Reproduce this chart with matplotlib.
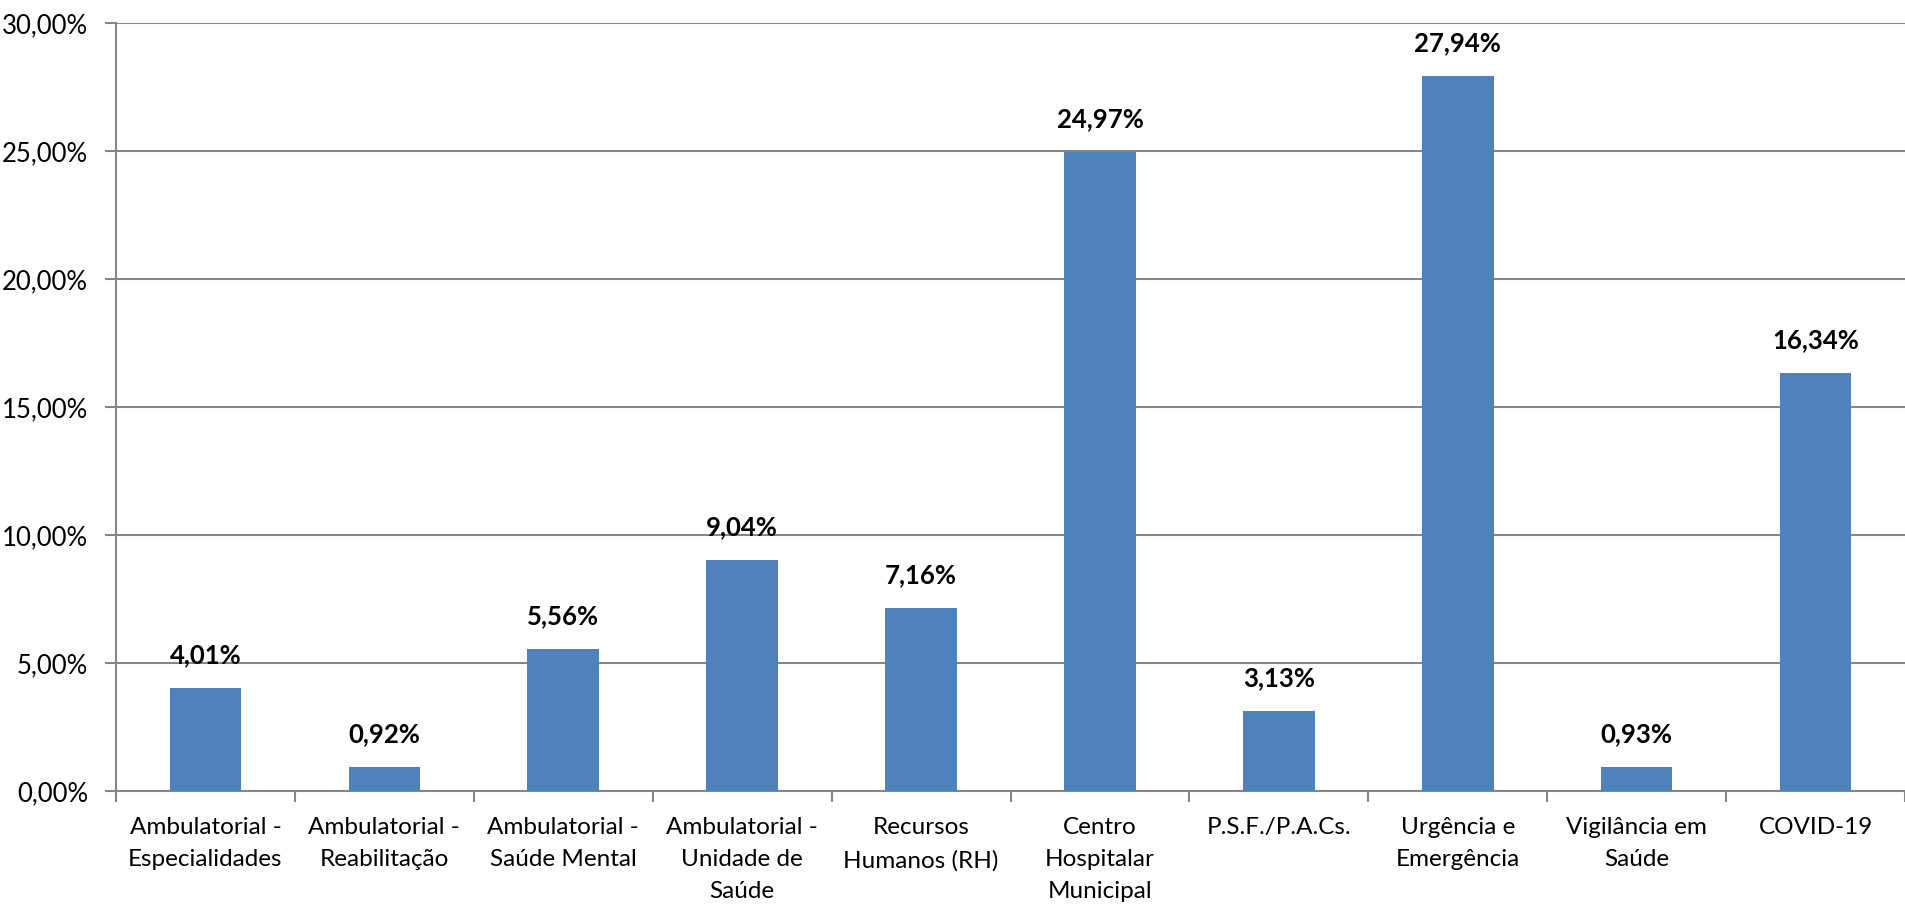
"""Gráfico de barras: distribuição percentual por área (estilo Excel)."""
import matplotlib

matplotlib.use("Agg")
matplotlib.rcParams["font.family"] = ["Lato", "DejaVu Sans"]

import matplotlib.pyplot as plt
import numpy as np
from matplotlib.ticker import FuncFormatter, MultipleLocator

categories = [
    "Ambulatorial -\nEspecialidades",
    "Ambulatorial -\nReabilitação",
    "Ambulatorial -\nSaúde Mental",
    "Ambulatorial -\nUnidade de\nSaúde",
    "Recursos\nHumanos (RH)",
    "Centro\nHospitalar\nMunicipal",
    "P.S.F./P.A.Cs.",
    "Urgência e\nEmergência",
    "Vigilância em\nSaúde",
    "COVID-19",
]
percentages = [4.01, 0.92, 5.56, 9.04, 7.16, 24.97, 3.13, 27.94, 0.93, 16.34]

BAR_COLOR = "#4f81bd"
GRID = "#868686"


def pct(v):
    return f"{v:.2f}%".replace(".", ",")


fig = plt.figure(figsize=(19.05, 9.06), dpi=100)
ax = fig.add_axes([116 / 1905, 115 / 906, 1 - 116 / 1905, (883 - 115) / 906])

x = np.arange(len(categories))
bars = ax.bar(x, percentages, width=0.4, color=BAR_COLOR, zorder=3)

for b, v in zip(bars, percentages):
    ax.annotate(pct(v), (b.get_x() + b.get_width() / 2, v), xytext=(0, 15),
                textcoords="offset points", ha="center", va="bottom",
                fontsize=18.5, fontweight="bold", color="black")

ax.set_xlim(-0.5, len(categories) - 0.5)
ax.set_ylim(0, 30)
ax.yaxis.set_major_locator(MultipleLocator(5))
ax.yaxis.set_major_formatter(FuncFormatter(lambda v, _: pct(v)))
ax.yaxis.grid(True, color=GRID, linewidth=1.5, zorder=0)

ax.set_xticks(x)
ax.set_xticklabels(categories, fontsize=17.5, linespacing=1.65)
ax.set_xticks(np.arange(-0.5, len(categories)), minor=True)
ax.tick_params(axis="x", which="major", length=0, pad=19)
ax.tick_params(axis="x", which="minor", length=8, width=1.5, color=GRID)
ax.tick_params(axis="y", length=8, width=1.5, color=GRID, labelsize=18.5, pad=12)

for side in ["top", "right"]:
    ax.spines[side].set_visible(False)
for side in ["left", "bottom"]:
    ax.spines[side].set_color(GRID)
    ax.spines[side].set_linewidth(1.5)

fig.savefig("out.png", facecolor="white")
plt.close(fig)
